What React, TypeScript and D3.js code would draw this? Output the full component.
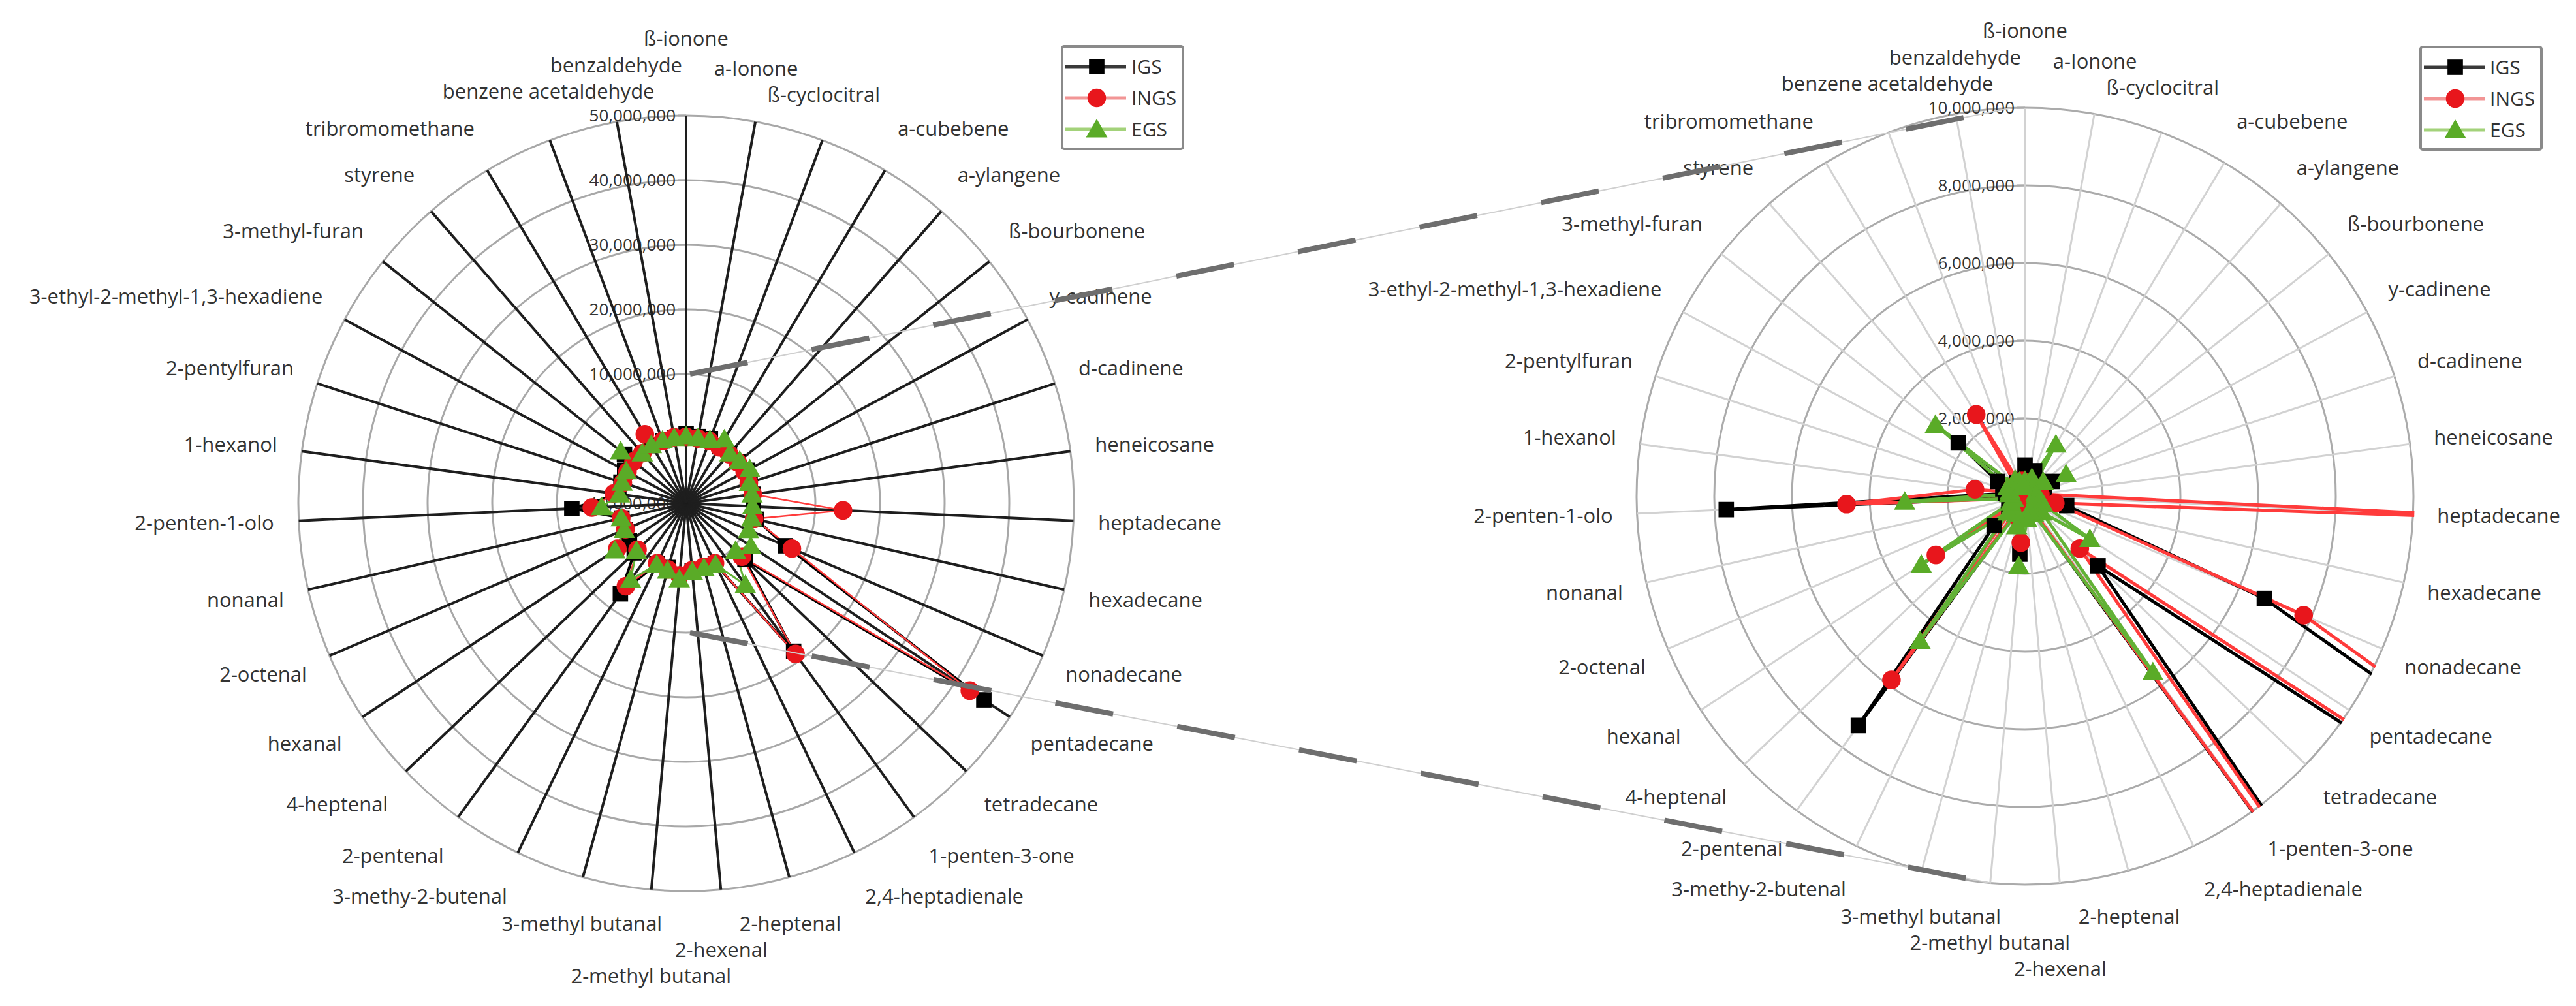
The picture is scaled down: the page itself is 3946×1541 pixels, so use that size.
import React from "react";
import * as d3 from "d3";

// compounds, clockwise from the top
const categories = [
  "ß-ionone", "a-Ionone", "ß-cyclocitral", "a-cubebene", "a-ylangene", "ß-bourbonene",
  "y-cadinene", "d-cadinene", "heneicosane", "heptadecane", "hexadecane", "nonadecane",
  "pentadecane", "tetradecane", "1-penten-3-one", "2,4-heptadienale", "2-heptenal",
  "2-hexenal", "2-methyl butanal", "3-methyl butanal", "3-methy-2-butenal", "2-pentenal",
  "4-heptenal", "hexanal", "2-octenal", "nonanal", "2-penten-1-olo", "1-hexanol",
  "2-pentylfuran", "3-ethyl-2-methyl-1,3-hexadiene", "3-methyl-furan", "styrene",
  "tribromomethane", "benzene acetaldehyde", "benzaldehyde",
];

const igs = [
  800000, 500000, 700000, 200000, 200000, 300000, 800000, 400000, 500000, 400000,
  1100000, 6700000, 45200000, 2600000, 18300000, 400000, 470000, 500000, 1500000,
  300000, 400000, 7300000, 1100000, 500000, 300000, 200000, 7700000, 500000, 600000,
  800000, 2200000, 300000, 400000, 300000, 300000,
];
const ings = [
  300000, 200000, 300000, 100000, 100000, 200000, 300000, 200000, 400000, 14300000,
  800000, 7800000, 42600000, 1950000, 18800000, 300000, 200000, 400000, 1200000,
  600000, 300000, 5850000, 400000, 2750000, 200000, 300000, 4600000, 1300000, 300000,
  300000, 400000, 300000, 2450000, 300000, 400000,
];
const egs = [
  400000, 300000, 500000, 1550000, 300000, 600000, 1200000, 300000, 300000, 300000,
  400000, 500000, 2000000, 600000, 5600000, 500000, 400000, 600000, 1800000, 800000,
  500000, 4600000, 600000, 3200000, 400000, 300000, 3100000, 400000, 400000, 500000,
  2950000, 300000, 500000, 400000, 300000,
];
const seriesNames = ["IGS", "INGS", "EGS"];

const overviewTicks = [-10000000, 0, 10000000, 20000000, 30000000, 40000000, 50000000];
const detailTicks = [0, 2000000, 4000000, 6000000, 8000000, 10000000];

const W = 3946;
const H = 1541;
const FONT = '"Open Sans", "DejaVu Sans", sans-serif';
const LABEL_SIZE = 31;
const TICK_SIZE = 26;
const LEGEND_SIZE = 30;
const TEXT = "#333";

const N = categories.length;
const angle = d3.scaleLinear().domain([0, N]).range([0, 2 * Math.PI]);
const fmt = d3
  .formatLocale({ decimal: ".", thousands: ",", grouping: [3], currency: ["", ""], minus: "-" })
  .format(",");

const seriesStyle = [
  { symbol: d3.symbolSquare, size: 560, fill: "#000", stroke: "#000", legend: "#3a3a3a" },
  { symbol: d3.symbolCircle, size: 640, fill: "#e8161c", stroke: "#ff3b3b", legend: "#f29595" },
  { symbol: d3.symbolTriangle, size: 470, fill: "#5aab27", stroke: "#62b236", legend: "#a3d27a" },
];
const seriesValues = [igs, ings, egs];

let ctx: CanvasRenderingContext2D | null = null;
function textWidth(s: string, size: number) {
  if (!ctx) ctx = document.createElement("canvas").getContext("2d");
  ctx!.font = `${size}px ${FONT}`;
  return ctx!.measureText(s).width;
}

type Box = { left: number; w: number; y: number; gap: number };

// excel-like placement of the category labels, near-vertical ones pushed apart
function layoutLabels(obstacles: Box[], reverseTies: boolean) {
  const items = categories.map((name, i) => {
    const a = angle(i);
    const s = Math.sin(a);
    const c = Math.cos(a);
    const w = textWidth(name, LABEL_SIZE);
    let left;
    if (Math.abs(s) < 0.37) left = 600 * s - w / 2;
    else if (s > 0) left = 632 * s;
    else left = 632 * s - w;
    return { name, i, s, c, w, left, y: -668 * c, gap: 40 };
  });
  const order = [...items].sort(
    (a, b) =>
      Math.round(Math.abs(b.s) * 1e5) - Math.round(Math.abs(a.s) * 1e5) ||
      (reverseTies ? b.i - a.i : a.i - b.i)
  );
  const placed: Box[] = [...obstacles];
  for (const it of order) {
    const hits = () =>
      placed.some(
        (p) =>
          it.left < p.left + p.w + 6 &&
          p.left < it.left + it.w + 6 &&
          Math.abs(it.y - p.y) < Math.min(p.gap, it.gap)
      );
    let guard = 0;
    while (hits() && guard++ < 300) it.y += it.c > 0 ? -1 : 1;
    placed.push(it);
  }
  return items;
}

function Legend({ x, y }: { x: number; y: number }) {
  return (
    <g transform={`translate(${x},${y})`}>
      <rect x={0} y={0} width={185} height={157} fill="#fff" stroke="#8a8a8a" strokeWidth={4} rx={3} />
      {seriesNames.map((name, k) => {
        const st = seriesStyle[k];
        const ry = 31 + k * 48;
        return (
          <g key={name}>
            <line x1={5} x2={98} y1={ry} y2={ry} stroke={st.legend} strokeWidth={5} />
            <path d={d3.symbol(st.symbol, st.size)()!} transform={`translate(53,${ry + (k === 2 ? 3 : 0)})`} fill={st.fill} />
            <text x={106} y={ry} dy="0.35em" fontSize={LEGEND_SIZE} fill={TEXT} fontFamily={FONT}>
              {name}
            </text>
          </g>
        );
      })}
    </g>
  );
}

type RadarProps = {
  id: string;
  cx: number;
  cy: number;
  R: number;
  ticks: number[];
  spokeColor: string;
  spokeWidth: number;
  ringColor: string;
  widths: number[];
  clip: boolean;
  reverseTies: boolean;
  legendDx: number;
  legendDy: number;
};

function Radar(p: RadarProps) {
  const { cx, cy, R, ticks } = p;
  const r = d3.scaleLinear().domain([ticks[0], ticks[ticks.length - 1]]).range([0, R]);
  const line = d3
    .lineRadial<number>()
    .angle((_, i) => angle(i))
    .radius((v) => r(v))
    .curve(d3.curveLinearClosed);
  const pt = (v: number, i: number) => [r(v) * Math.sin(angle(i)), -r(v) * Math.cos(angle(i))];
  const tickBoxes: Box[] = ticks.map((t) => {
    const w = textWidth(fmt(t), TICK_SIZE);
    return { left: -16 - w, w, y: -r(t), gap: 36 };
  });
  const labels = layoutLabels(tickBoxes, p.reverseTies);

  return (
    <g>
      <defs>
        <clipPath id={p.id}>
          <circle cx={0} cy={0} r={R + 2} />
        </clipPath>
      </defs>
      <g transform={`translate(${cx},${cy})`}>
        {ticks.slice(1).map((t) => (
          <circle key={t} r={r(t)} fill="none" stroke={p.ringColor} strokeWidth={3} />
        ))}
        {ticks.map((t) => (
          <g key={"t" + t}>
            <line x1={-12} x2={0} y1={-r(t)} y2={-r(t)} stroke={p.ringColor} strokeWidth={3} />
            <text x={-16} y={-r(t)} dy="0.35em" textAnchor="end" fontSize={TICK_SIZE} fill={TEXT} fontFamily={FONT}>
              {fmt(t)}
            </text>
          </g>
        ))}
        {categories.map((c, i) => (
          <line
            key={c}
            x1={0}
            y1={0}
            x2={R * Math.sin(angle(i))}
            y2={-R * Math.cos(angle(i))}
            stroke={p.spokeColor}
            strokeWidth={p.spokeWidth}
          />
        ))}
        <g clipPath={p.clip ? `url(#${p.id})` : undefined}>
          {seriesValues.map((vals, k) => (
            <path key={"l" + k} d={line(vals)!} fill="none" stroke={seriesStyle[k].stroke} strokeWidth={p.widths[k]} strokeLinejoin="round" />
          ))}
          {seriesValues.map((vals, k) =>
            vals.map((v, i) => {
              const [x, y] = pt(v, i);
              return (
                <path
                  key={`m${k}-${i}`}
                  d={d3.symbol(seriesStyle[k].symbol, seriesStyle[k].size)()!}
                  transform={`translate(${x},${y + (k === 2 ? 3 : 0)})`}
                  fill={seriesStyle[k].fill}
                />
              );
            })
          )}
        </g>
        {labels.map((l) => (
          <text key={l.name} x={l.left} y={l.y} dy="0.35em" fontSize={LABEL_SIZE} fill={TEXT} fontFamily={FONT}>
            {l.name}
          </text>
        ))}
      </g>
      <Legend x={cx + p.legendDx} y={cy + p.legendDy} />
    </g>
  );
}

export default function App() {
  const left = { cx: 1051, cy: 771, R: 594 };
  const right = { cx: 3102, cy: 760, R: 595 };
  const rLeft = d3.scaleLinear().domain([overviewTicks[0], overviewTicks[overviewTicks.length - 1]]).range([0, left.R]);
  const zoomR = rLeft(detailTicks[detailTicks.length - 1]);
  const polar = (c: typeof right, deg: number) => [
    c.cx + c.R * Math.sin((deg * Math.PI) / 180),
    c.cy - c.R * Math.cos((deg * Math.PI) / 180),
  ];
  const [ux, uy] = polar(right, 358);
  const [lx, ly] = polar(right, 185);
  const connectors = [
    [left.cx + 6, left.cy - zoomR, ux, uy],
    [left.cx + 6, left.cy + zoomR, lx, ly],
  ];

  return (
    <svg width={W} height={H} style={{ position: "absolute", left: 0, top: 0, background: "#fff" }}>
      <rect width={W} height={H} fill="#fff" />
      <Radar
        id="clipL"
        {...left}
        ticks={overviewTicks}
        spokeColor="#1e1e1e"
        spokeWidth={4}
        ringColor="#a8a8a8"
        widths={[4, 2.5, 3]}
        clip={false}
        reverseTies={false}
        legendDx={576}
        legendDy={-700}
      />
      <Radar
        id="clipR"
        {...right}
        ticks={detailTicks}
        spokeColor="#d2d2d2"
        spokeWidth={3}
        ringColor="#ababab"
        widths={[5, 5, 5]}
        clip={true}
        reverseTies={true}
        legendDx={606}
        legendDy={-688}
      />
      {connectors.map(([x1, y1, x2, y2], i) => (
        <g key={i}>
          <line x1={x1} y1={y1} x2={x2} y2={y2} stroke="#cfcfcf" strokeWidth={2} />
          <line x1={x1} y1={y1} x2={x2} y2={y2} stroke="#6e6e6e" strokeWidth={8} strokeDasharray="90 100" />
        </g>
      ))}
    </svg>
  );
}
